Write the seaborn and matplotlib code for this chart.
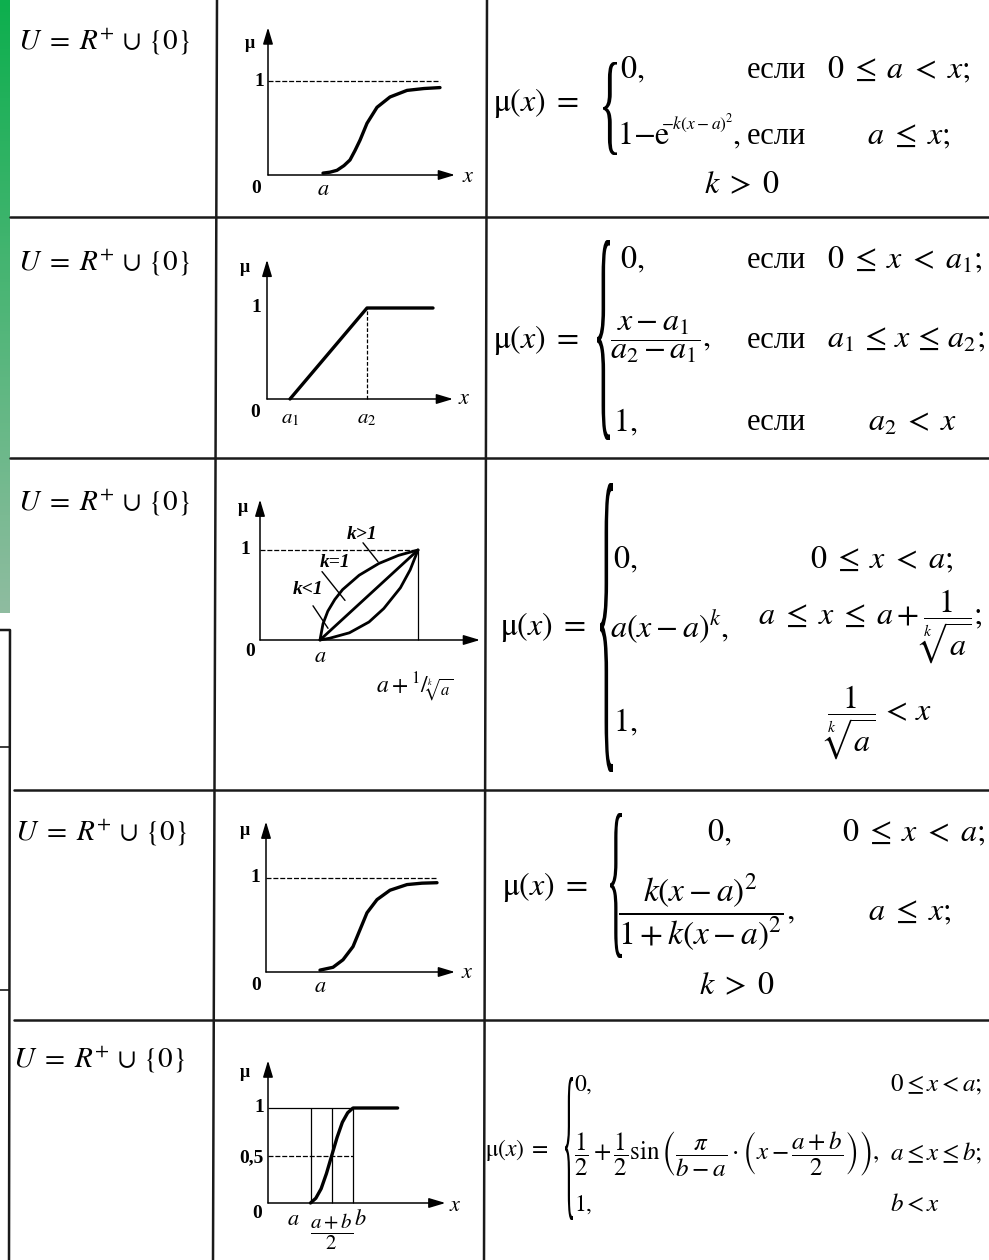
import numpy as np
import matplotlib
matplotlib.use("Agg")
import matplotlib.pyplot as plt
import seaborn as sns
from matplotlib.colors import LinearSegmentedColormap
from matplotlib.textpath import TextPath
from matplotlib.font_manager import FontProperties
from matplotlib.patches import PathPatch
from matplotlib.transforms import Affine2D

sns.set_theme(style="white")
plt.rcParams["font.family"] = ["Liberation Serif", "DejaVu Serif"]
plt.rcParams["mathtext.fontset"] = "stix"

W, H = 989, 1260

# ---- curve data read off the sketches (graph units) ----
# row 1: 1 - exp(-k(x-a)^2)
g1_x = [2.75, 3.1, 3.45, 3.8, 4.1, 4.35, 4.6, 4.95, 5.45, 6.1, 6.95, 7.8, 8.6]
g1_y = [0.02, 0.03, 0.05, 0.10, 0.16, 0.26, 0.37, 0.55, 0.72, 0.83, 0.90, 0.92, 0.93]
g1_a = 2.75

# row 2: linear ramp a1 -> a2
g2_x = [1.15, 5.0, 8.3]
g2_y = [0.0, 1.0, 1.0]
g2_a1, g2_a2 = 1.15, 5.0

# row 3: a(x-a)^k for k<1, k=1, k>1
g3_lt_x = [3.0, 3.15, 3.39, 3.74, 4.13, 4.96, 5.94, 6.92, 7.9]
g3_lt_y = [0.0, 0.18, 0.32, 0.45, 0.56, 0.72, 0.85, 0.94, 1.0]
g3_eq_x = [3.0, 7.9]
g3_eq_y = [0.0, 1.0]
g3_gt_x = [3.0, 3.49, 4.47, 5.45, 6.19, 7.02, 7.51, 7.9]
g3_gt_y = [0.0, 0.02, 0.08, 0.20, 0.35, 0.58, 0.78, 1.0]
g3_a, g3_end = 3.0, 7.9
g3_labels = ["k>1", "k=1", "k<1"]

# row 4: k(x-a)^2 / (1 + k(x-a)^2)
g4_x = [2.7, 3.35, 3.85, 4.35, 4.7, 5.05, 5.55, 6.2, 7.05, 7.8, 8.55]
g4_y = [0.02, 0.05, 0.13, 0.27, 0.45, 0.63, 0.77, 0.87, 0.93, 0.945, 0.95]
g4_a = 2.7

# row 5: sine step between a and b
g5_x = [4.0, 4.5, 5.0, 5.5, 6.0, 6.5, 7.0, 7.5, 8.0, 12.2]
g5_y = [0.0, 0.05, 0.15, 0.31, 0.5, 0.69, 0.85, 0.95, 1.0, 1.0]
g5_a, g5_mid, g5_b = 4.0, 6.0, 8.0

universe = r"$U\;=\;R^{+}\,\cup\,\{0\}$"

fig = plt.figure(figsize=(W / 100, H / 100), dpi=100)
bg = fig.add_axes([0, 0, 1, 1])
bg.axis("off")

# green strip on the left
green = LinearSegmentedColormap.from_list("g", ["#0daf4e", "#8fbca0"])
bg.imshow(np.linspace(0, 1, 200)[:, None], cmap=green, extent=(0, 10, 613, 0), aspect="auto")
bg.set_xlim(0, W)
bg.set_ylim(H, 0)

# table rules
lw = 1.8
bg.plot([217, 213], [0, H], color="k", lw=lw)
bg.plot([487, 484], [0, H], color="k", lw=lw)
for yy, x0 in [(217, 10), (458, 10), (790, 14), (1020, 14)]:
    bg.plot([x0, W], [yy, yy], color="k", lw=lw)
bg.plot([0, 10, 9], [630, 630, H], color="k", lw=lw)
bg.plot([0, 9], [747, 747], color="k", lw=1.2)
bg.plot([0, 9], [990, 990], color="k", lw=1.2)


def brace(x0, x1, y0, y1):
    tp = TextPath((0, 0), "{", size=1, prop=FontProperties(family="Liberation Serif"))
    bb = tp.get_extents()
    tr = (Affine2D().translate(-bb.x0, -bb.y0)
          .scale((x1 - x0) / bb.width, -(y1 - y0) / bb.height)
          .translate(x0, y1))
    bg.add_patch(PathPatch(tr.transform_path(tp), fc="black", ec="none"))


def t(x, y, s, size=23, **kw):
    kw.setdefault("ha", "left")
    kw.setdefault("va", "center")
    bg.text(x, y, s, fontsize=size, color="black", **kw)


mu = r"$\mathrm{\mu}(x)\;=$"
esli = "если"

# column 1
for x, y in [(18, 42), (18, 263), (18, 503), (15, 833), (13, 1060)]:
    t(x, y, universe, size=21)

# row 1 formula
t(493, 103, mu)
brace(603, 617, 62, 155)
t(620, 70, r"$0,$")
t(617, 137, r"$1{-}\mathrm{e}$")
t(661, 124, r"$-k(x-a)^{2}$", size=12.5)
t(732, 137, r"$,$")
t(747, 70, esli, size=22)
t(747, 137, esli, size=22)
t(827, 70, r"$0\;\leq\;a\;<\;x;$")
t(867, 137, r"$a\;\leq\;x;$")
t(742, 186, r"$k\;>\;0$", ha="center")

# row 2 formula
t(493, 340, mu)
brace(597, 610, 240, 440)
t(620, 260, r"$0,$")
t(610, 340, r"$\dfrac{x-a_1}{a_2-a_1},$")
t(613, 423, r"$1,$")
for y in [260, 340, 423]:
    t(747, y, esli, size=22)
t(827, 260, r"$0\;\leq\;x\;<\;a_1;$")
t(827, 340, r"$a_1\,\leq\,x\,\leq\,a_2;$")
t(868, 423, r"$a_2\;<\;x$")

# row 3 formula
t(500, 627, mu)
brace(600, 613, 483, 772)
t(613, 560, r"$0,$")
t(810, 560, r"$0\;\leq\;x\;<\;a;$")
t(610, 627, r"$a(x-a)^{k},$")
t(758, 627, r"$a\;\leq\;x\;\leq\;a+\dfrac{1}{\sqrt[k]{a}};$")
t(613, 723, r"$1,$")
t(823, 723, r"$\dfrac{1}{\sqrt[k]{a}}\,<\,x$")

# row 4 formula
t(502, 887, mu)
brace(610, 622, 813, 958)
t(707, 833, r"$0,$")
t(842, 833, r"$0\;\leq\;x\;<\;a;$")
t(618, 912, r"$\dfrac{k(x-a)^{2}}{1+k(x-a)^{2}},$", size=24)
t(868, 913, r"$a\;\leq\;x;$")
t(737, 987, r"$k\;>\;0$", ha="center")

# row 5 formula
t(485, 1150, mu, size=17)
brace(565, 573, 1077, 1220)
t(574, 1085, r"$0,$", size=17)
t(574, 1153, r"$\dfrac{1}{2}+\dfrac{1}{2}\sin\left(\dfrac{\pi}{b-a}\cdot\left(x-\dfrac{a+b}{2}\right)\right),$", size=18)
t(574, 1205, r"$1,$", size=17)
t(890, 1085, r"$0\leq x<a;$", size=18)
t(890, 1153, r"$a\leq x\leq b;$", size=18)
t(890, 1205, r"$b<x$", size=18)


# ---- the small sketches ----
def graph(ox, oy, sx, sy, xlim=(-3.0, 12.0), ylim=(-0.7, 1.8)):
    left = (ox + xlim[0] * sx) / W
    bottom = 1 - (oy - ylim[0] * sy) / H
    ax = fig.add_axes([left, bottom, (xlim[1] - xlim[0]) * sx / W, (ylim[1] - ylim[0]) * sy / H])
    ax.set_xlim(*xlim)
    ax.set_ylim(*ylim)
    ax.axis("off")
    return ax


def arrows(ax, xend, ytop):
    kw = dict(arrowstyle="-|>,head_length=1.0,head_width=0.3", color="black",
              lw=1.1, shrinkA=0, shrinkB=0, mutation_scale=10)
    ax.annotate("", xy=(xend, 0), xytext=(0, 0), arrowprops=kw)
    ax.annotate("", xy=(0, ytop), xytext=(0, 0), arrowprops=kw)


def lbl(ax, x, y, s, size=14, **kw):
    kw.setdefault("ha", "center")
    kw.setdefault("va", "center")
    ax.text(x, y, s, fontsize=size, color="black", **kw)


curve_kw = dict(color="black", lw=2.4, sort=False, estimator=None, legend=False)
dot_kw = dict(color="black", lw=0.9, ls=(0, (4, 1.5)))

# graph 1
ax = graph(268, 175, 20, 94)
arrows(ax, 9.35, 1.57)
ax.hlines(1, 0, g1_x[-1], **dot_kw)
sns.lineplot(x=g1_x, y=g1_y, ax=ax, **curve_kw)
lbl(ax, -0.9, 1.4, "μ", size=13, weight="bold")
lbl(ax, -0.2, 1.0, "1", ha="right", weight="bold")
lbl(ax, -0.6, -0.14, "0", weight="bold")
lbl(ax, g1_a, -0.17, r"$a$", size=16)
lbl(ax, 9.7, -0.03, r"$x$", size=16, ha="left")

# graph 2
ax = graph(267, 399, 20, 91)
arrows(ax, 9.3, 1.53)
ax.vlines(g2_a2, 0, 1, color="black", lw=0.9, ls=(0, (3, 1.5)))
sns.lineplot(x=g2_x, y=g2_y, ax=ax, **curve_kw)
lbl(ax, -1.1, 1.44, "μ", size=13, weight="bold")
lbl(ax, -0.3, 1.0, "1", ha="right", weight="bold")
lbl(ax, -0.6, -0.15, "0", weight="bold")
lbl(ax, g2_a1, -0.22, r"$a_1$", size=15)
lbl(ax, g2_a2, -0.22, r"$a_2$", size=15)
lbl(ax, 9.55, 0.0, r"$x$", size=16, ha="left")

# graph 3
ax = graph(260, 640, 20, 90)
arrows(ax, 11.0, 1.56)
ax.hlines(1, 0, g3_end, **dot_kw)
ax.vlines(g3_end, 0, 1, color="black", lw=0.9)
for gx, gy in [(g3_lt_x, g3_lt_y), (g3_eq_x, g3_eq_y), (g3_gt_x, g3_gt_y)]:
    sns.lineplot(x=gx, y=gy, ax=ax, **{**curve_kw, "lw": 2.0})
for s, (x, y), (lx, ly) in zip(g3_labels,
                               [(5.1, 1.17), (3.75, 0.86), (2.4, 0.56)],
                               [((5.15, 5.9), (1.08, 0.87)), ((3.1, 4.25), (0.76, 0.44)),
                                ((2.65, 3.4), (0.38, 0.13))]):
    lbl(ax, x, y, s, size=14, style="italic", weight="bold")
    ax.plot(lx, ly, color="black", lw=1.0)
lbl(ax, -0.5, 1.0, "1", ha="right", weight="bold")
lbl(ax, -0.85, 1.47, "μ", size=13, weight="bold")
lbl(ax, -0.5, -0.13, "0", weight="bold")
lbl(ax, g3_a, -0.2, r"$a$", size=16)
lbl(ax, 7.75, -0.52, r"$a+{}^{1}/_{\sqrt[k]{a}}$", size=17)

# graph 4
ax = graph(266, 972, 20, 94)
arrows(ax, 9.45, 1.6)
ax.hlines(1, 0, g4_x[-1], **dot_kw)
sns.lineplot(x=g4_x, y=g4_y, ax=ax, **curve_kw)
lbl(ax, -1.05, 1.51, "μ", size=13, weight="bold")
lbl(ax, -0.3, 1.0, "1", ha="right", weight="bold")
lbl(ax, -0.5, -0.14, "0", weight="bold")
lbl(ax, g4_a, -0.17, r"$a$", size=16)
lbl(ax, 9.75, -0.02, r"$x$", size=16, ha="left")

# graph 5
ax = graph(268, 1203, 10.625, 95, xlim=(-5.0, 19.0))
arrows(ax, 16.7, 1.5)
ax.hlines(1, 0, g5_b, color="black", lw=0.9)
ax.hlines(0.5, 0, g5_b, **dot_kw)
ax.vlines([g5_a, g5_mid, g5_b], 0, 1, color="black", lw=0.9)
sns.lineplot(x=g5_x, y=g5_y, ax=ax, **curve_kw)
lbl(ax, -2.2, 1.37, "μ", size=13, weight="bold")
lbl(ax, -0.4, 1.0, "1", ha="right", weight="bold")
lbl(ax, -0.4, 0.48, "0,5", ha="right", weight="bold")
lbl(ax, -1.0, -0.11, "0", weight="bold")
lbl(ax, g5_a - 1.6, -0.18, r"$a$", size=16)
lbl(ax, g5_mid, -0.3, r"$\dfrac{a+b}{2}$", size=15)
lbl(ax, g5_b + 0.7, -0.18, r"$b$", size=16)
lbl(ax, 17.0, -0.04, r"$x$", size=16, ha="left")

fig.savefig("out.png", dpi=100)
